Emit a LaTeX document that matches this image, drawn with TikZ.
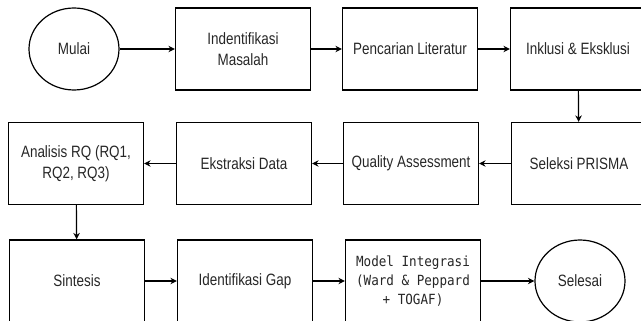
\documentclass[tikz,border=0pt]{standalone}
\usepackage{fontspec}
\setmainfont{Liberation Sans}[FakeStretch=0.82]
\setmonofont{DejaVu Sans Mono}[FakeStretch=0.9]
\usetikzlibrary{arrows.meta, shapes.geometric}

\begin{document}
\begin{tikzpicture}[x = 1pt, y = -1pt,
	langkah/.style = {draw, line width = 1.2pt, minimum width = 135pt, minimum height = 82pt, align = center, inner sep = 0pt,
		font = \fontsize{16.4}{21}\selectfont, text = black!85},
	terminal/.style = {draw, ellipse, line width = 1.2pt, minimum width = 90pt, minimum height = 82pt, inner sep = 0pt,
		font = \fontsize{16.4}{21}\selectfont, text = black!85},
	alur/.style = {draw, line width = 1.2pt, -{Stealth[length = 6.5pt, width = 6.5pt]}}]


	%%% BINGKAI %%%

	\useasboundingbox (0, 0) rectangle (641, 321);
	\clip (0, 0) rectangle (641, 321);


	%%% BARIS 1 %%%

	\node[terminal] (mulai)     at ( 74, 49) {Mulai};
	\node[langkah]  (identif)   at (243, 49) {Indentifikasi\\Masalah};
	\node[langkah]  (pencarian) at (410, 49) {Pencarian Literatur};
	\node[langkah]  (inklusi)   at (578, 49) {Inklusi \& Eksklusi};


	%%% BARIS 2 %%%

	\node[langkah] (analisis)  at ( 76, 163.5) {Analisis RQ (RQ1,\\RQ2, RQ3)};
	\node[langkah] (ekstraksi) at (244, 163.5) {Ekstraksi Data};
	\node[langkah] (quality)   at (411, 163.5) {Quality Assessment};
	\node[langkah] (seleksi)   at (579, 163.5) {Seleksi PRISMA};


	%%% BARIS 3 %%%

	\node[langkah] (sintesis) at ( 77, 281) {Sintesis};
	\node[langkah] (gap)      at (245, 281) {Identifikasi Gap};
	\node[langkah, font = \ttfamily\fontsize{14}{18.7}\selectfont] (model) at (413, 281) {Model Integrasi\\(Ward \& Peppard\\+ TOGAF)};
	\node[terminal] (selesai) at (580, 281) {Selesai};


	%%% ALUR %%%

	\draw[alur] (mulai)     -- (identif);
	\draw[alur] (identif)   -- (pencarian);
	\draw[alur] (pencarian) -- (inklusi);
	\draw[alur] (inklusi)   -- (seleksi);
	\draw[alur] (seleksi)   -- (quality);
	\draw[alur] (quality)   -- (ekstraksi);
	\draw[alur] (ekstraksi) -- (analisis);
	\draw[alur] (analisis)  -- (sintesis);
	\draw[alur] (sintesis)  -- (gap);
	\draw[alur] (gap)       -- (model);
	\draw[alur] (model)     -- (selesai);


\end{tikzpicture}
\end{document}
